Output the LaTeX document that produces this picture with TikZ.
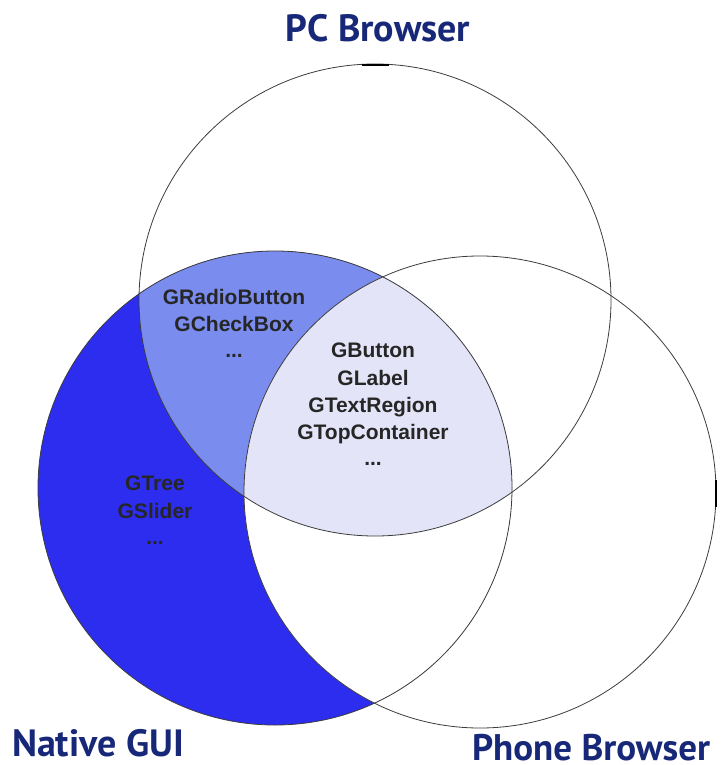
\documentclass[tikz,border=0pt]{standalone}
\usepackage{fontspec}
\setmainfont{Liberation Sans}
\newfontfamily\titlefont{PT Sans}
\definecolor{navy}{RGB}{24,40,120}
\definecolor{deepblue}{RGB}{45,45,240}
\definecolor{midblue}{RGB}{122,140,238}
\definecolor{lavender}{RGB}{228,228,248}
\definecolor{rim}{RGB}{60,60,60}
\tikzset{
  setlabel/.style={font=\titlefont\bfseries\fontsize{38}{40}\selectfont, text=navy, anchor=base, inner sep=0pt, text depth=0pt},
  item/.style={font=\bfseries\fontsize{21}{27}\selectfont, text={black!85}, anchor=base, inner sep=0pt},
  rimline/.style={draw=rim, line width=0.8pt},
  handle/.style={draw=black, line width=2.6pt}
}
\begin{document}
\begin{tikzpicture}[x=1pt,y=-1pt]
\useasboundingbox (0,0) rectangle (720,765);
\fill[white] (0,0) rectangle (720,765);

% centres of the three sets
\coordinate (pcc) at (375,300);
\coordinate (natc) at (275,488);
\coordinate (phc) at (480,492);

% region fills
\fill[deepblue] (natc) circle (237pt);
\begin{scope}
  \clip (natc) circle (237pt);
  \fill[midblue] (pcc) circle (236pt);
  \fill[white] (phc) circle (236pt);
  \clip (pcc) circle (236pt);
  \fill[lavender] (phc) circle (236pt);
\end{scope}

% outlines
\draw[rimline] (pcc) circle (236pt);
\draw[rimline] (natc) circle (237pt);
\draw[rimline] (phc) circle (236pt);

% small marks on the outlines
\coordinate (pctop1) at (362,65);
\coordinate (pctop2) at (389,65);
\draw[handle] (pctop1) -- (pctop2);
\coordinate (phr1) at (716,480);
\coordinate (phr2) at (716,507);
\draw[handle] (phr1) -- (phr2);

% set names
\node[setlabel] (pcname) at (378,42) {PC Browser};
\node[setlabel] (natname) at (98,756) {Native GUI};
\node[setlabel, font=\titlefont\bfseries\fontsize{37}{40}\selectfont] (phname) at (591,760) {Phone Browser};

% Native GUI only
\node[item] (gtree) at (155,490) {GTree};
\node[item] (gslider) at (155,518) {GSlider};
\node[item] (natdots) at (155,544) {...};

% Native GUI and PC Browser
\node[item] (gradio) at (234,304) {GRadioButton};
\node[item] (gcheck) at (234,331) {GCheckBox};
\node[item] (pcnatdots) at (234,357) {...};

% all three
\node[item] (gbutton) at (373,357) {GButton};
\node[item] (glabel) at (373,385) {GLabel};
\node[item] (gtext) at (373,412) {GTextRegion};
\node[item] (gtop) at (373,439) {GTopContainer};
\node[item] (alldots) at (373,465) {...};
\end{tikzpicture}
\end{document}
